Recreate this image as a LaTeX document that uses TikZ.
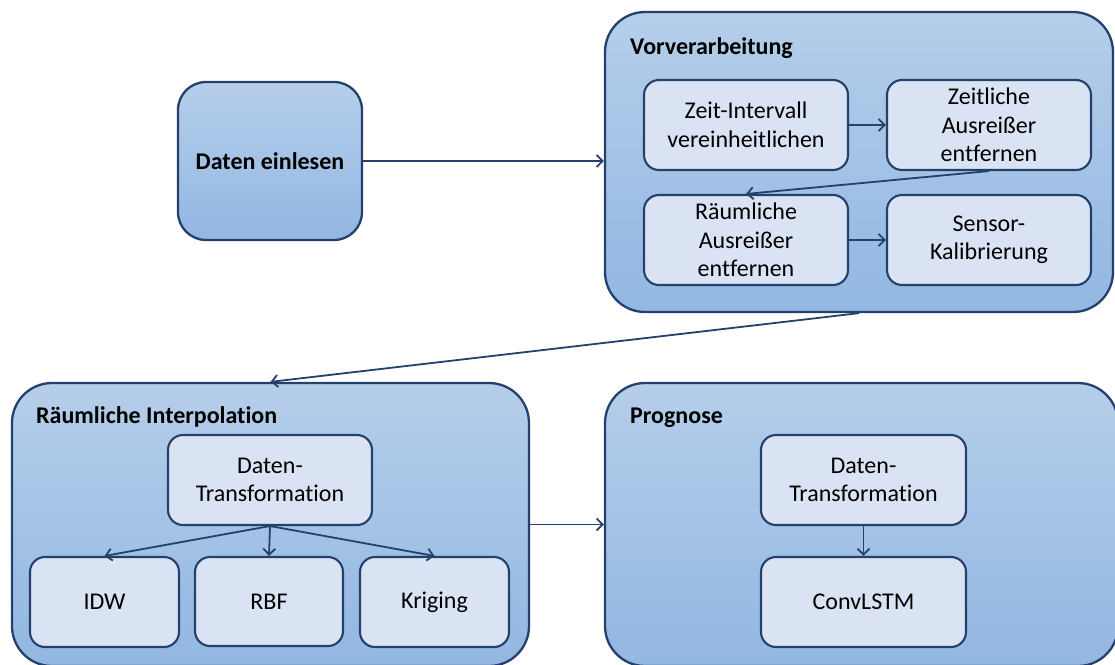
\documentclass[tikz,border=0pt]{standalone}
\usepackage{fontspec}
\setmainfont{Carlito}[Ligatures=NoCommon]
\usetikzlibrary{arrows.meta,fit}

\definecolor{rand}{RGB}{37,64,107}
\definecolor{hellblau}{RGB}{181,206,234}
\definecolor{mittelblau}{RGB}{146,183,226}
\definecolor{kasten}{RGB}{218,227,243}

\begin{document}
\begin{tikzpicture}[x=1pt,y=-1pt,
    font=\fontsize{24}{28.5}\selectfont,
    gruppe/.style={draw=rand, line width=2.3pt, rounded corners=40pt,
        top color=hellblau, bottom color=mittelblau, inner sep=0pt},
    block/.style={draw=rand, line width=2.3pt, rounded corners=28pt,
        top color=hellblau, bottom color=mittelblau, inner sep=0pt},
    schritt/.style={draw=rand, line width=2.1pt, rounded corners=15pt,
        fill=kasten, inner sep=0pt, align=center},
    titel/.style={anchor=base west, inner sep=0pt, font=\fontsize{24}{28.5}\selectfont\bfseries},
    pfeil/.style={draw=rand, line width=1.8pt, -{Straight Barb[length=6pt,width=12pt]}}]

    \useasboundingbox (0,0) rectangle (1115,664);

    % Daten einlesen
    \node[block, fit={(178,82) (362,240)}] (ein) {};
    \node[inner sep=0pt, font=\fontsize{24}{28.5}\selectfont\bfseries] (eintext) at (ein.center) {Daten einlesen};

    % Vorverarbeitung
    \node[gruppe, fit={(605,12) (1113,312)}] (vor) {};
    \node[titel] (vortitel) at (630,54) {Vorverarbeitung};
    \node[schritt, fit={(644,80) (848,170)}] (zeit) {};
    \node[align=center] (zeittext) at (zeit.center) {Zeit-Intervall\\vereinheitlichen};
    \node[schritt, fit={(887,80) (1091,170)}] (zaus) {};
    \node[align=center] (zaustext) at (zaus.center) {Zeitliche\\Ausreißer\\entfernen};
    \node[schritt, fit={(644,195) (848,285)}] (raus) {};
    \node[align=center] (raustext) at (raus.center) {Räumliche\\Ausreißer\\entfernen};
    \node[schritt, fit={(887,195) (1091,285)}] (kal) {};
    \node[align=center] (kaltext) at (kal.center) {Sensor-\\Kalibrierung};

    % Raeumliche Interpolation
    \node[gruppe, fit={(12,383) (529,666)}] (interp) {};
    \node[titel] (interptitel) at (36,423) {Räumliche Interpolation};
    \node[schritt, fit={(168,435) (372,525)}] (trans) {};
    \node[align=center] (transtext) at (trans.center) {Daten-\\Transformation};
    \node[schritt, fit={(30,557) (179,647)}] (idw) {};
    \node (idwtext) at (idw.center) {IDW};
    \node[schritt, fit={(195,557) (343,646)}] (rbf) {};
    \node (rbftext) at (rbf.center) {RBF};
    \node[schritt, fit={(360,557) (509,647)}] (krig) {};
    \node (krigtext) at (krig.center) {Kriging};

    % Prognose
    \node[gruppe, fit={(605,383) (1118,666)}] (prog) {};
    \node[titel] (progtitel) at (630,423) {Prognose};
    \node[schritt, fit={(761,435) (966,525)}] (ptrans) {};
    \node[align=center] (ptranstext) at (ptrans.center) {Daten-\\Transformation};
    \node[schritt, fit={(761,557) (966,647)}] (lstm) {};
    \node (lstmtext) at (lstm.center) {ConvLSTM};

    % Pfeile
    \draw[pfeil] (ein.east) -- (ein.east -| vor.west);
    \draw[pfeil] (zeit) -- (zaus);
    \draw[pfeil] (zaus.south) -- (raus.north);
    \draw[pfeil] (raus) -- (kal);
    \draw[pfeil] (vor.south) -- (interp.north);
    \draw[pfeil] (trans.south) -- (idw.north);
    \draw[pfeil] (trans.south) -- (rbf.north);
    \draw[pfeil] (trans.south) -- (krig.north);
    \draw[pfeil] (interp.east) -- (prog.west);
    \draw[pfeil] (ptrans) -- (lstm);

\end{tikzpicture}
\end{document}
